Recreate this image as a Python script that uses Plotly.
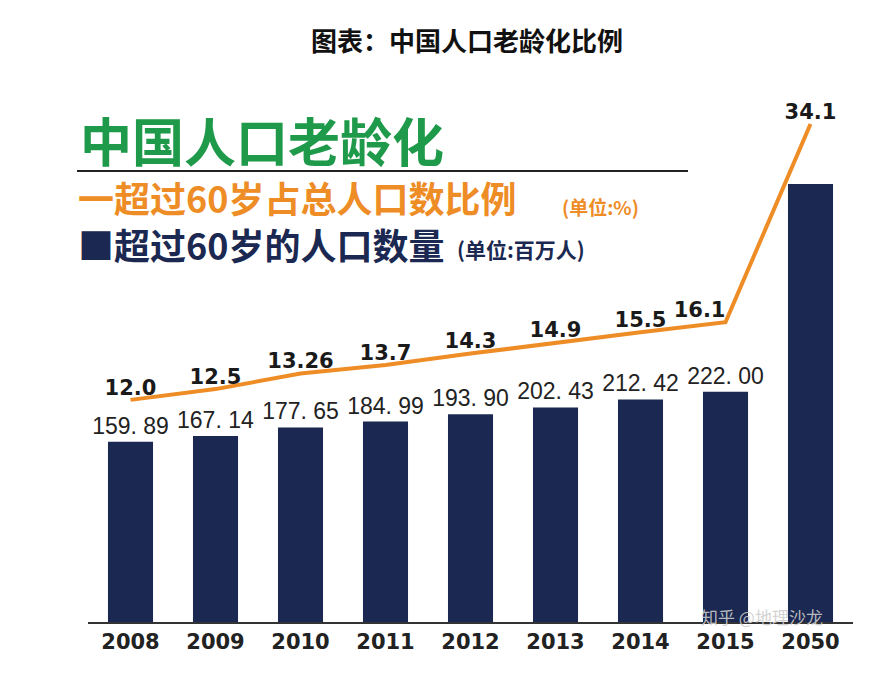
import plotly.graph_objects as go

years = ["2008", "2009", "2010", "2011", "2012", "2013", "2014", "2015", "2050"]
elderly_millions = [159.89, 167.14, 177.65, 184.99, 193.90, 202.43, 212.42, 222.00, 480.0]
bar_labels = ["159. 89", "167. 14", "177. 65", "184. 99", "193. 90", "202. 43", "212. 42", "222. 00", ""]
elderly_share = [12.0, 12.5, 13.26, 13.7, 14.3, 14.9, 15.5, 16.1, 34.1]
share_labels = ["12.0", "12.5", "13.26", "13.7", "14.3", "14.9", "15.5", "16.1", "34.1"]

NAVY = "#1b2851"
ORANGE = "#ee8c26"
GREEN = "#1f9a4a"
CJK = "Noto Sans CJK SC"

# page shows the figure with an 8px offset; plot area on the page is x 88..853, y 60..622
OFF = 8


def px(p):
    return (p - 88) / 765


def py(p):
    return (622 - p) / 562


fig = go.Figure()

fig.add_trace(go.Bar(
    x=years, y=[v + 64 for v in elderly_millions], base=-64,
    marker=dict(color=NAVY, line_width=0),
    text=bar_labels, textposition="outside", constraintext="none",
    textfont=dict(family="Liberation Sans", size=23, color="#222222"),
    cliponaxis=False, showlegend=False,
))

fig.add_trace(go.Scatter(
    x=years, y=elderly_share, yaxis="y2",
    mode="lines+text", text=share_labels,
    textposition=["top center"] * 7 + ["top left", "top center"],
    line=dict(color=ORANGE, width=4),
    textfont=dict(family="DejaVu Sans", size=21, color="#1a1a1a", weight="bold"),
    cliponaxis=False, showlegend=False,
))

annotations = [
    dict(text="图表：中国人口老龄化比例", x=px(467), y=py(39),
         xanchor="center", yanchor="middle",
         font=dict(family=CJK, size=26, color="#111111", weight="bold")),
    dict(text="中国人口老龄化", x=px(78), y=py(139),
         xanchor="left", yanchor="middle",
         font=dict(family=CJK, size=52, color=GREEN, weight="bold")),
    dict(text="一超过60岁占总人口数比例", x=px(76), y=py(197),
         xanchor="left", yanchor="middle",
         font=dict(family=CJK, size=36, color=ORANGE, weight="bold")),
    dict(text="(单位:%)", x=px(560), y=py(206),
         xanchor="left", yanchor="middle",
         font=dict(family=CJK, size=19, color=ORANGE, weight="bold")),
    dict(text="■超过60岁的人口数量", x=px(76), y=py(244),
         xanchor="left", yanchor="middle",
         font=dict(family=CJK, size=36, color=NAVY, weight="bold")),
    dict(text="(单位:百万人)", x=px(455), y=py(249),
         xanchor="left", yanchor="middle",
         font=dict(family=CJK, size=21, color=NAVY, weight="bold")),
    dict(text="知乎 @地理沙龙", x=px(762), y=py(616),
         xanchor="center", yanchor="middle",
         font=dict(family=CJK, size=17, color="rgba(205,205,205,0.9)")),
]
for a in annotations:
    a.update(xref="paper", yref="paper", showarrow=False)

fig.add_shape(type="line", xref="paper", yref="paper",
              x0=px(77), x1=px(688), y0=py(171), y1=py(171),
              line=dict(color="#222222", width=2))

fig.update_layout(
    width=895, height=693,
    margin=dict(l=88 - OFF, r=895 - 853 + OFF, t=60 - OFF, b=693 - 622 + OFF),
    paper_bgcolor="white", plot_bgcolor="white",
    bargap=0.47,
    xaxis=dict(
        type="category", showline=True, linecolor="#333333", linewidth=2,
        ticks="", showgrid=False,
        tickfont=dict(family="DejaVu Sans", size=21, color="#222222", weight="bold"),
    ),
    yaxis=dict(range=[-64, 634], visible=False, showgrid=False),
    yaxis2=dict(type="log", range=[0.714, 1.638], overlaying="y",
                visible=False, showgrid=False),
    annotations=annotations,
)

fig.write_html("out.html")
